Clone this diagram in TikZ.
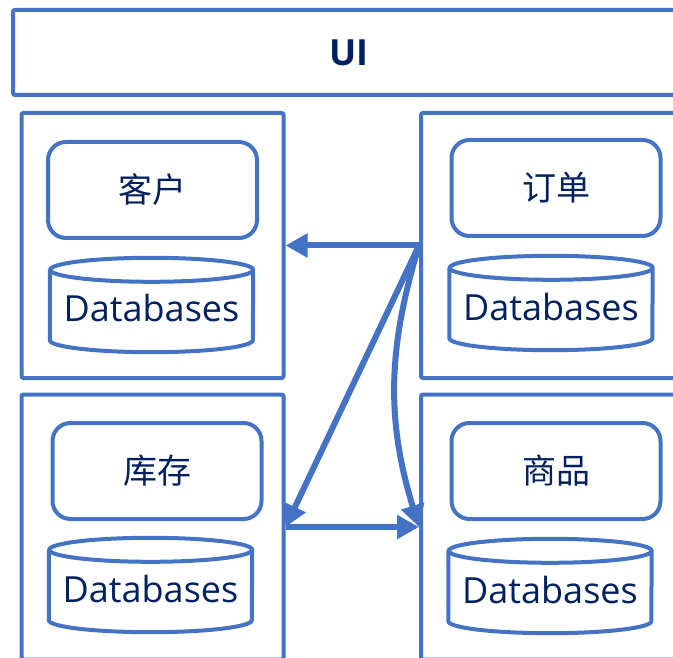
\documentclass[tikz,border=0pt]{standalone}
\usepackage{fontspec}
\setmainfont{Open Sans}
\newfontfamily\cjk{Noto Sans CJK SC}
\usetikzlibrary{arrows.meta}
\definecolor{msBlue}{RGB}{68,114,196}
\definecolor{msNavy}{RGB}{0,32,96}

\begin{document}
\begin{tikzpicture}[
    x=1pt, y=-1pt,
    frame/.style={draw=msBlue, line width=4pt, rounded corners=2pt, inner sep=0pt},
    service/.style={frame, minimum width=262pt, minimum height=265pt},
    entity/.style={draw=msBlue, line width=4pt, rounded corners=18pt, minimum width=209pt, minimum height=96pt, text=msNavy, font=\cjk\fontsize{34}{36}\selectfont},
    dbbox/.style={minimum width=203pt, minimum height=94pt, inner sep=0pt, text height=34pt, text depth=0pt, text=msNavy, font=\fontsize{36}{40}\selectfont},
    dbline/.style={draw=msBlue, line width=4pt},
    flow/.style={draw=msBlue, line width=6pt, -{Triangle[length=22pt,width=23pt]}}
]
    \useasboundingbox (0,0) rectangle (673,658);
    \clip (0,0) rectangle (673,658);

    % top bar
    \node[frame, minimum width=672pt, minimum height=85pt, text=msNavy, font=\bfseries\fontsize{36}{40}\selectfont] (ui) at (349,52.5) {UI};

    % services
    \node[service] (cust) at (152.5,245.5) {};
    \node[service] (ord) at (552,245.5) {};
    \node[service] (inv) at (152.5,527) {};
    \node[service] (prod) at (552,527) {};

    \node[entity] (custname) at (152.5,190) {客户};
    \node[entity] (ordname) at (556,188) {订单};
    \node[entity] (invname) at (157,471) {库存};
    \node[entity] (prodname) at (556,471) {商品};

    \node[dbbox] (custdb) at (151.5,305) {Databases};
    \node[dbbox] (orddb) at (551,303) {Databases};
    \node[dbbox] (invdb) at (150.5,585) {Databases};
    \node[dbbox] (proddb) at (550,586) {Databases};

    % database cylinders
    \foreach \db in {custdb,orddb,invdb,proddb} {
        \draw[dbline] ([yshift=-12pt]\db.north west) -- ([yshift=12pt]\db.south west)
            arc[start angle=180, end angle=360, x radius=101.5pt, y radius=12pt]
            -- ([yshift=-12pt]\db.north east)
            arc[start angle=0, end angle=360, x radius=101.5pt, y radius=12pt];
    }

    % calls between services
    \draw[flow] (ord.west) -- (cust.east);
    \draw[flow] (ord.west) -- (inv.east);
    \draw[flow] (ord.west) to[bend right=17] (prod.west);
    \draw[flow] (inv.east) -- (prod.west);
\end{tikzpicture}
\end{document}
